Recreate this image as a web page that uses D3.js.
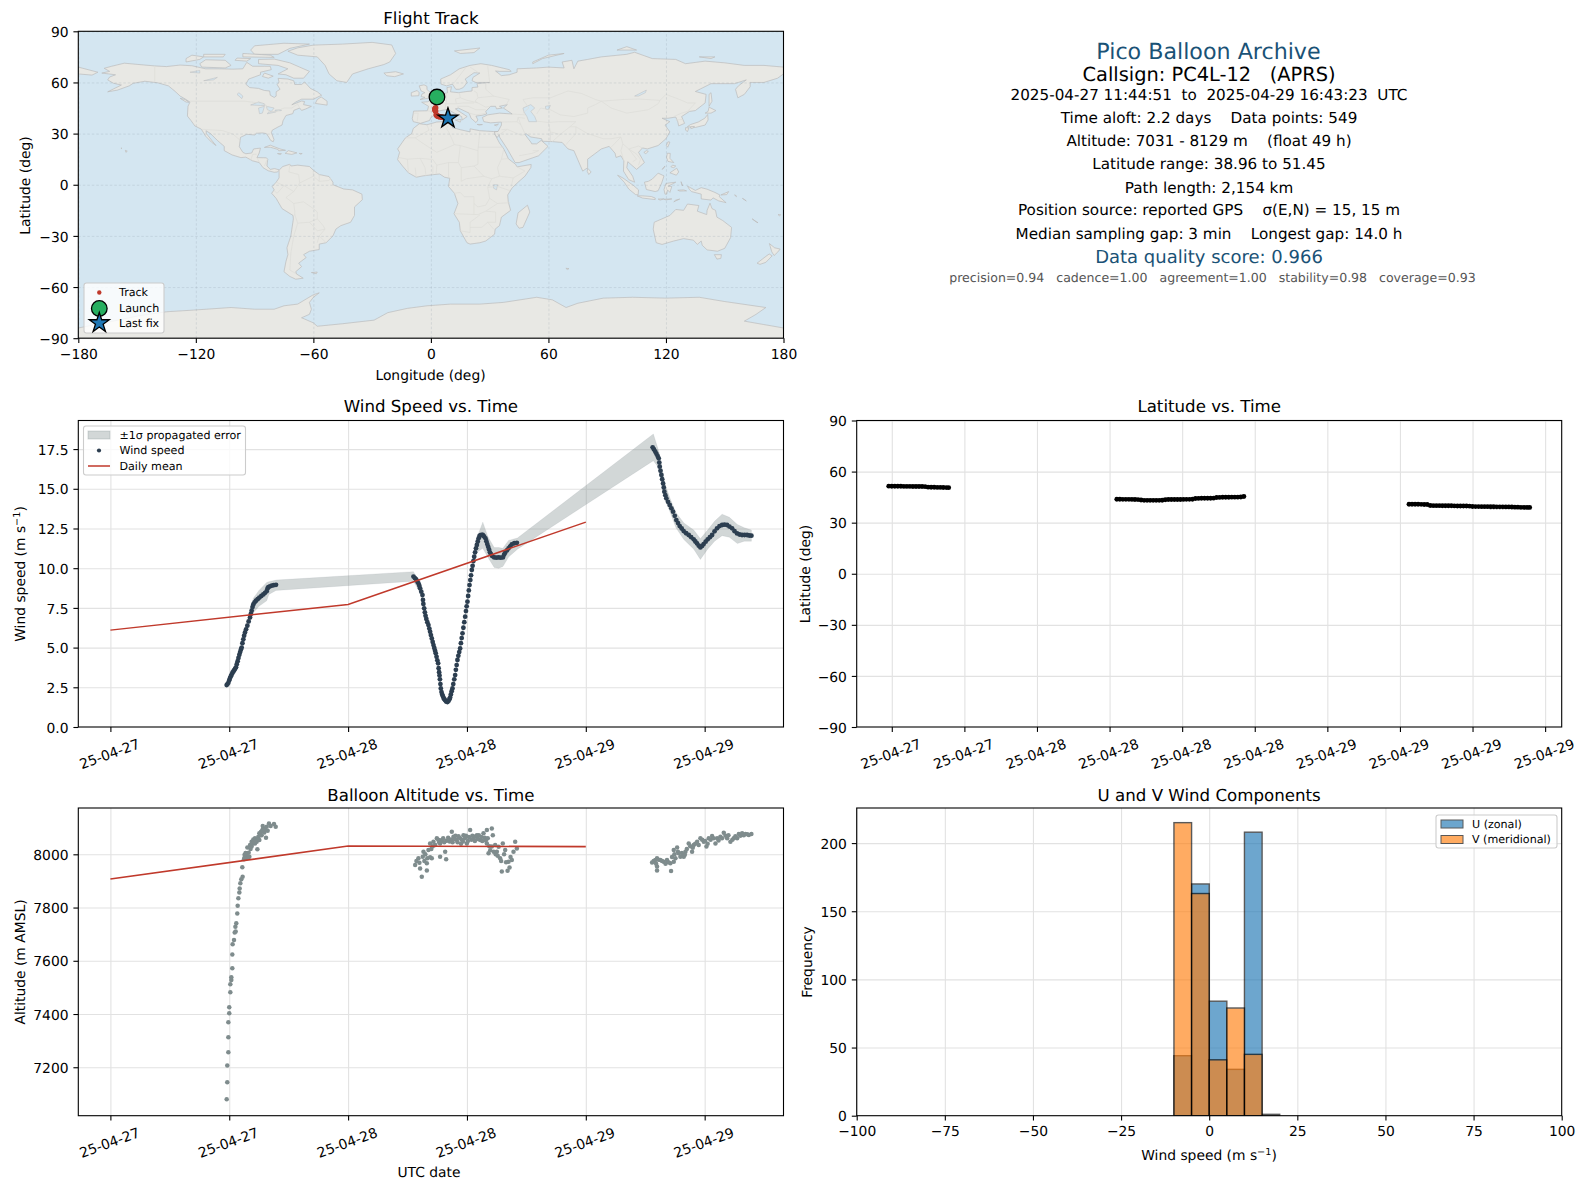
<!DOCTYPE html>
<html><head><meta charset="utf-8">
<script src="https://cdn.jsdelivr.net/npm/d3@7"></script>
<style>
html,body{margin:0;padding:0;background:#fff}
svg{display:block;text-rendering:geometricPrecision}
text{font-family:"DejaVu Sans",sans-serif;fill:#000}
</style></head><body>
<script>
// ---------- DATA ----------
const northAmerica=[[-168,65.5],[-164,66.5],[-166.8,68.3],[-163,69.5],[-156.5,71.3],[-148,70.4],[-141,69.7],[-135,69.3],[-128,70.2],[-122,69.8],[-115,68],[-108,68],[-101,67.8],[-96,68],[-94,71.8],[-91,69.5],[-85,69.5],[-82,69.5],[-81.5,67.5],[-87,66],[-87,64.5],[-93,62],[-94.5,59],[-92.5,57],[-88,56.5],[-85,55.3],[-82.3,55],[-82,52.5],[-80,51.2],[-79,52],[-79,54.5],[-77,56],[-78.5,58.7],[-77.5,60.2],[-78,62.4],[-73,62],[-70,61],[-69.5,58.8],[-66,58.8],[-64.5,60.3],[-61.5,56.5],[-58,54.5],[-55.8,52.5],[-60,50.2],[-66,50.2],[-69,48.5],[-71,46.9],[-66,49.1],[-64.5,48.8],[-65,47],[-61,46],[-64,44.4],[-66,43.6],[-67,45],[-70,43.6],[-70.5,41.7],[-74,40.6],[-75.5,37.5],[-76,35],[-78,33.9],[-81,32],[-81.4,30.5],[-80.1,26.5],[-80.5,25.2],[-81.8,26],[-82.8,28],[-84,30],[-86,30.4],[-89,30.2],[-90,29.2],[-94,29.6],[-97.2,27.8],[-97.5,25],[-97.8,22.3],[-96,19],[-94.5,18.2],[-91.5,18.6],[-90.5,21],[-87,21.5],[-87.7,18.5],[-88.8,15.9],[-84,15.8],[-83.3,15],[-83.7,11],[-82,9],[-79.8,9.5],[-77.4,8.7],[-78.2,7.5],[-80,7.3],[-83,8.2],[-85.7,10],[-87.6,13],[-91,14],[-94.5,16.2],[-97,15.9],[-101.5,17.5],[-105.5,20],[-105.5,22.5],[-109,26],[-112.5,30],[-114.8,31.7],[-114.6,30],[-111.5,25.5],[-109.7,23],[-112,25],[-115,28.5],[-117.2,32.6],[-120.5,34.5],[-122.5,37.7],[-124.3,40.3],[-124,46],[-123,48.5],[-125,50],[-128,52],[-130.5,54.7],[-134,58],[-139.5,59.8],[-146,60.7],[-152,59.5],[-154,58],[-160,55.5],[-165,54.5],[-158,58.5],[-162,59.5],[-165,61.5],[-164,63.2],[-161,64.5]];
const greenland=[[-73,78.3],[-68,80.3],[-60,81.9],[-45,82.5],[-30,83.5],[-20,82],[-18,77],[-21,72],[-24,70.5],[-32,68],[-40,65],[-43,60],[-48,61],[-52,65],[-54,70],[-58,75],[-68,76]];
const southAmerica=[[-77.4,8.7],[-75.6,10.7],[-72,12],[-71.5,11],[-68,11.5],[-62,10.7],[-60,8.5],[-57,6],[-52,4.8],[-50,1.5],[-50,0],[-44.5,-2.5],[-40,-3],[-35.2,-5.5],[-35,-8.8],[-39,-13],[-39,-18],[-41,-22],[-46,-24],[-48.5,-26],[-50,-30],[-53.5,-34],[-57,-34.8],[-57,-38],[-62,-39],[-65,-41],[-63.7,-42.7],[-67.5,-46],[-66,-48],[-69,-51],[-68.5,-52.4],[-65.2,-54.8],[-69,-55.4],[-72,-53.8],[-75,-51],[-74,-45],[-73,-41],[-73.5,-37],[-71.5,-30],[-70.2,-20],[-70.4,-18],[-76,-14],[-79,-8],[-81.3,-5],[-80,-3],[-81,-1],[-79,1.5],[-77.5,4],[-77.5,7]];
const africa=[[-5.9,35.8],[-2,35.2],[3,36.8],[10,37.3],[11,33.5],[15,32.3],[20,31],[20,32.8],[25,31.7],[32,31.2],[34.3,31.2],[32.5,29.9],[35,24.5],[37.2,21],[38.5,18],[39.5,15.3],[43.2,12],[44,10.5],[51.2,11.9],[51,10],[48,5],[45,2],[41.5,-1.8],[39.2,-6],[39.5,-10],[40.7,-15],[36,-19],[35,-24],[32.8,-26],[32.5,-29],[28,-33],[25,-34],[20,-34.8],[18.4,-34],[15,-27],[14.5,-22],[11.8,-17],[13.8,-11],[12,-5],[9,-1],[9.6,3.8],[7,4.4],[4.5,6.3],[1,5.9],[-4,5.2],[-7.5,4.4],[-11.5,7],[-14.5,11],[-17,14.7],[-16,19],[-17,21],[-13,27.5],[-9.8,30],[-9,33]];
const eurasia=[[-9,37],[-9.5,38.8],[-8.8,43.2],[-1.8,43.4],[-1.2,46],[-4.7,48.4],[-1.6,48.7],[1.5,50.5],[3.5,51.4],[5,53],[8.5,54],[8.2,57],[10.5,57.5],[10,54.5],[14,54],[18.5,54.7],[21,55],[21,57],[24,57.3],[23.5,59.3],[30,60],[23,60],[21,61],[21.5,63],[25,65.5],[22,65.7],[17.5,62],[18.5,60],[16.5,57],[14.5,56],[12.7,56],[11,59],[8,58],[5.2,59],[5,62],[10,64.5],[14.5,68],[20,70],[25.5,71],[31,70],[40,67.5],[41,66.5],[35,66.5],[33,66.7],[36,64],[40,64.5],[44,66],[44,68],[54,68.5],[60,69],[68,68.5],[67,72],[72,73],[73,68],[75,72.5],[80,73.5],[87,75],[100,76.5],[104,77.7],[113,74],[125,73.5],[130,71],[140,72.5],[150,71.5],[160,70],[170,70],[180,69],[180,65],[177,62.5],[170,60],[163,60],[163,57.5],[162,56],[160,53],[156.7,51],[155.5,56],[157,58],[161,61.5],[155,59.3],[143,59.3],[135,54.7],[140.5,53],[140,48],[135,43.5],[132,43],[128,40],[129.5,36],[126.5,34.5],[126,37],[125,39.7],[121,39],[118,39],[122,37],[119.5,35],[122,31],[120,27],[116,23],[110.5,21],[108,21.6],[106,19],[109,13],[105,9],[103,11],[100.5,13.5],[100,10],[103,5],[104,1.5],[101,3],[98.3,8],[98.5,14],[97,17],[94.5,16],[94,18.5],[91,22.5],[87,21],[80,15],[80,10],[77.5,8],[73,20],[70,21],[67,24.8],[62,25.3],[57,25.5],[56.5,27],[51,28],[48.5,30],[48,29.5],[51,25],[51.5,24],[54,24],[56.3,26],[59.8,22.5],[55,17],[45,13],[43,13],[39,21],[35,28],[34.9,29.5],[34,27.8],[33,29],[32.4,31],[34.3,31.3],[36,35],[36,36.8],[30.5,36.3],[27,37],[26.3,39.5],[29,41],[35,42],[41.5,41.5],[37,45],[39,47],[35,46],[36.5,45],[33.5,44.5],[33,46],[30.5,46],[28,43],[28.5,41.5],[26,40.7],[23,40.3],[24,38],[23,36.5],[20.5,39],[19.5,42],[14,45],[12.5,44.5],[18.5,40],[16,38],[15.7,40],[12,42],[8.5,44.3],[3,43],[3.2,41.8],[0,39.5],[-0.7,37.7],[-5.3,36]];
const chukotkaEast=[[-180,69],[-175,67.5],[-170,66],[-173,64.3],[-180,65]];
const australia=[[114,-22],[113.5,-26],[115,-34],[118,-35],[124,-33],[129,-31.6],[134,-32.5],[136,-35],[138,-33],[138.5,-35.5],[141,-38.2],[146.3,-39],[150,-37.3],[153,-31],[153.5,-25],[149,-21],[146,-19],[145.3,-15],[143.5,-14],[142.5,-10.8],[141,-15],[140.8,-17.5],[136,-15.5],[136.8,-12.2],[131,-11.3],[129,-15],[125,-14.5],[122,-18],[117,-20.5]];
const antarctica=[[-180,-84],[-158,-79],[-150,-77],[-135,-74.5],[-121,-73.5],[-102,-72],[-90,-73],[-80,-73],[-75,-71],[-68,-70],[-60,-64.5],[-57,-63.4],[-60,-66],[-62,-69],[-61,-73],[-62,-76],[-66,-78],[-60,-81],[-58,-83],[-45,-81.5],[-29,-79.4],[-22,-75],[-12,-72.5],[-2,-71],[10,-70],[25,-70],[37,-69],[54,-66],[62,-67.5],[69,-72],[75,-69.5],[88,-66.5],[103,-66],[120,-66.5],[137,-66],[150,-68.5],[162,-70.5],[171,-72],[166,-76],[160,-80],[170,-82],[180,-84],[180,-90],[-180,-90]];
const islands=[
 [[-80,73.7],[-72,71.5],[-67,69],[-62,66.5],[-65,62.5],[-70,62.5],[-74,64.5],[-78,65],[-73,68],[-78,70],[-88,71],[-88,73.5]],
 [[-117,69],[-105,68.5],[-102,70],[-105,73],[-115,73.3],[-118,71]],
 [[-125,72],[-118,73.5],[-116,75],[-122,76],[-125,74]],
 [[-90,76.5],[-78,76.5],[-72,80],[-62,82.5],[-75,83],[-90,81.5],[-92,79]],
 [[-96,75],[-80,74.7],[-82,76],[-96,77]],
 [[-116,75],[-106,75],[-105,76.5],[-116,76.5]],
 [[-100,73],[-94,72.5],[-92,74],[-99,74.3]],
 [[-85,65.5],[-80.5,63.7],[-83,62.5],[-86,63.5]],
 [[-59,47.7],[-53,46.7],[-53,49],[-56,51.5],[-58,50]],
 [[-128,50.7],[-125,48.5],[-123.5,48.4],[-125.5,50]],
 [[-85,21.9],[-82,23.2],[-77,21],[-74.2,20.2],[-77.7,19.9],[-78,20.7],[-82,22]],
 [[-74.4,18.4],[-72.8,20],[-68.4,18.7],[-71,17.8]],
 [[-78.3,18.3],[-76.3,18.2],[-77,17.8]],[[-67.2,18.4],[-65.7,18.3],[-66.5,17.9]],
 [[-156,20.2],[-155,19.7],[-155.7,19]],[[-158.2,21.6],[-157.7,21.4],[-158,21.2]],
 [[-61,-51.5],[-58,-51.2],[-58.5,-52.2]],
 [[-5.5,50],[1.3,51.2],[1.7,52.7],[-1,54.7],[-2,56],[-2,57.7],[-3.5,58.6],[-6,58],[-5,55],[-3,54],[-4.5,53.3],[-5,51.7],[-3,51.3]],
 [[-10,52],[-6.2,52.2],[-6,54],[-7,55.3],[-10,54]],
 [[-24,65.5],[-18,66.3],[-14,65],[-18.5,63.4],[-22.5,63.9]],
 [[12,78.5],[25,80.2],[22,77.5],[15,77]],
 [[52,71],[57,74],[68,77],[60,76],[52,72]],
 [[95,79],[105,79],[100,81]],[[137,75],[145,75],[143,74]],
 [[12.5,38],[15.5,38.2],[15,36.7]],[[8.3,41],[9.7,41],[9.5,39]],[[8.7,42.5],[9.5,43],[9.3,41.5]],[[23.6,35.4],[26.3,35.3],[24.7,35]],[[32.4,35],[34.5,35.6],[33.5,34.6]],
 [[130.9,34],[135,33.6],[140,35],[141.5,38],[141.3,41.2],[139.8,39],[136.5,36.8],[132.5,35.3]],
 [[130,33.5],[131.7,33.3],[131,31.2],[130,32]],[[132.5,34],[134.5,34.2],[134,33.3],[132.7,33]],
 [[140,42],[143,42],[145.5,43.5],[142,45.5],[141.5,43]],
 [[142,46],[143.5,49],[143,54],[142,53],[142,48]],
 [[120.2,23],[121,25.2],[122,25],[120.9,22]],[[108.7,19],[110,20],[111,19.6],[109.7,18.2]],
 [[120.3,16],[120.7,18.5],[122.2,18.4],[122,15.5],[124,13],[121,13.7]],
 [[122,7],[125.5,9.7],[126.5,7.5],[125.3,5.6]],[[122.5,10.5],[123.3,11.5],[125,11],[124,10]],[[118,9],[119.5,11],[118.7,9.5]],
 [[109,1.5],[111,2],[113,3.3],[116,6.8],[119,5.2],[117.8,1],[116,-3.5],[114.5,-4],[110,-2.8]],
 [[95.3,5.6],[98,4],[103.5,-0.5],[106,-3],[105.8,-5.9],[104.5,-5.8],[101,-2.5],[98.7,1.5]],
 [[105.3,-6.5],[108,-6.5],[112.5,-6.9],[114.5,-7.8],[114.5,-8.7],[108,-7.8]],
 [[119.5,-5.5],[119,-2.8],[120,0.8],[125,1.5],[121,-0.9],[123,-1],[122,-4.5],[120.8,-3],[120.4,-5.5]],
 [[131,-0.8],[135,-3.3],[138,-1.7],[141,-2.6],[145,-4.5],[147.5,-6],[147.2,-7],[150.7,-10.5],[147,-9.5],[144,-7.7],[143,-9],[138,-8.3],[138,-5.5],[133,-4],[132,-2.8]],
 [[124,-10],[127,-8.4],[125,-9]],[[119,-8.5],[123,-8.3],[120,-8.9]],[[116,-8.4],[119,-8.3],[117,-9]],[[127.7,1.8],[128.5,-0.7],[128,0.5]],[[126,-3.2],[129,-3],[130.5,-3.6],[127,-3.7]],
 [[148,-6],[152,-4],[151,-5.8]],[[155,-6],[156,-7],[155.8,-6.3]],[[159,-8],[161,-9.5],[160,-8.6]],[[164,-20],[167,-22.3],[166,-21.8]],[[177.2,-17.5],[178.6,-17.6],[178,-18.2]],
 [[80,9.7],[81.8,7.5],[80.6,6],[79.8,7.8]],
 [[49.3,-12],[50.5,-16],[47,-25],[45,-25.5],[43.5,-23],[44.5,-16.5]],
 [[144.7,-41],[148.3,-41],[148,-43.2],[146,-43.6]],
 [[172.8,-34.5],[175.5,-37],[178.3,-37.7],[176.9,-39.7],[175.2,-41.5],[174,-39.3]],
 [[172.7,-40.6],[174.2,-41.7],[171,-45.5],[168,-46.7],[166.5,-46],[171,-42]],
 [[68.9,-49],[70.5,-49.2],[69.6,-49.7]]
];
const lakes=[
 [[47,45],[51,47],[53,45],[51,43],[53,40],[54,37],[50,37],[49,40],[47.5,42.8]],
 [[58.5,46],[61,46.5],[60,44],[58.5,44.5]],
 [[104,52],[110,55.5],[109.5,54],[106,52]],
 [[-92,46.8],[-88,48.5],[-85,47.5],[-84.7,46.5],[-87,46.5]],
 [[-87.5,41.7],[-88,45],[-85,46],[-86,42]],
 [[-84,46],[-80,45],[-81.5,43],[-83.5,44]],
 [[-83.5,41.6],[-79,42.7],[-79,43],[-83,42.5]],
 [[-79.5,43.3],[-76.3,43.5],[-76.5,44],[-79.5,43.8]],
 [[-99,53],[-96.5,50.5],[-96,52],[-98,54]],
 [[-123,66],[-118,67],[-118,65.5]],[[-116,61],[-109,63],[-111,61.5]],
 [[32,0],[34,0],[33.5,-3],[32,-2]]
];
const borders=[
 [[-141,69.7],[-141,60.3]],[[-123,49],[-95,49],[-88,48],[-84,46.5],[-82.5,42.5],[-79,43],[-75,45],[-71,45],[-68,47.3],[-67,45]],
 [[-117,32.5],[-106.5,31.8],[-101,29.7],[-97.3,26]],[[-92,14.5],[-91,17.8],[-89,17.9]],[[-83.5,15],[-85,11]],[[-87.5,13],[-88.8,15.9]],[[-77.4,8.7],[-77.4,7.2]],
 [[-72,12],[-72.5,7.5],[-67.5,6],[-67,1],[-70,-4],[-74,-7.5],[-70,-11],[-69.5,-15.5],[-69.5,-17.5],[-70.4,-18.3]],
 [[-79,1.5],[-75,-0.5],[-70,-4]],[[-80,-3.5],[-78.5,-5],[-75,-0.5]],
 [[-69.5,-17.5],[-68,-22.5],[-70,-30],[-71.5,-40],[-72,-50],[-68.5,-52.4]],
 [[-67,1],[-60,5],[-57,2],[-52,2.5],[-51,4]],[[-60,5],[-60,8.5]],[[-57,2],[-57,6]],
 [[-70,-11],[-65,-10],[-60,-14],[-58,-16],[-58,-20],[-55,-24],[-54,-26],[-57,-30],[-53.5,-34]],
 [[-68,-22.5],[-62,-22],[-58,-20]],[[-62,-22],[-58,-27],[-54,-26]],[[-57,-30],[-58,-34]],
 [[-2,35.2],[-1,32],[-8,27.5],[-13,27.5]],[[-8,27.5],[-5,25],[3,19],[12,23.5],[15,23],[24,20],[25,31.7]],[[10,37.3],[8,33],[9.5,30],[12,23.5]],
 [[24,22],[37,22]],[[24,20],[24,12],[22,11],[27,5],[31,3.5],[35,5],[42,4],[48,8],[44,10.5]],[[36,15],[37.2,21]],[[35,5],[34,10],[36,15],[39.5,15.3]],[[42,4],[41,-1]],
 [[15,23],[14,13],[9,13],[3,11.5],[1,14.8],[-5.5,15.5],[-12,15],[-16.5,16]],[[14,13],[15.5,10],[22,11]],[[-5.5,15.5],[-3,10],[-2.5,5]],[[3,11.5],[2.7,6.3]],[[1,11],[1,6]],[[-8,10],[-7.5,4.4]],[[-12,15],[-11.5,7]],[[9,13],[9,5],[9.6,3.8]],
 [[15.5,10],[15.5,2],[18,3.5],[27,5]],[[12,-5],[15,-4.5],[17,-7],[22,-7],[22,-11],[24,-13],[28,-12],[30,-8],[29,-1.5],[31,3.5]],[[34,-1],[29,-1.5]],[[34,-1],[40.5,-3.5]],[[30,-8],[34,-11],[40.4,-10.5]],
 [[11.8,-17],[24,-17.5],[28,-15.5],[34,-11]],[[22,-11],[22,-17.5]],[[15,-27],[20,-28],[20,-22],[25,-17.7]],[[20,-25],[26,-25],[29,-22],[33,-22]],[[32,-26],[29,-22]],[[28,-15.5],[33,-16],[33,-22]],
 [[-9,42],[-6.5,42],[-7,37.2]],[[-1.8,43.4],[3,42.5]],[[3,51],[8,49],[7,44]],[[8,49],[8,54.5]],[[14.5,54],[15,51],[18.5,49.5],[24,48],[22.5,49],[24,51],[23.5,54],[22,55]],[[15,51],[12.5,50.3],[13,47.5],[7,47.5]],[[13,47.5],[16.5,48],[22,48]],[[13.5,46],[19,46],[23,44],[28,44]],[[24,48],[28,45.5],[30,46]],[[24,51],[32,52],[40,50],[38.5,47]],[[28,60],[28,56],[32,52]],[[30,60],[29,69.5]],[[20,69],[24,66]],[[12,60],[18,69]],[[19.5,42],[23,41],[26,41.5],[28,42]],
 [[48,41],[41.5,41.5]],[[44.5,39.5],[44,37],[46,35],[48,30]],[[36,36.8],[44,37]],[[39,32.5],[46,29],[48,29.5]],[[36,32.3],[39,32.5]],[[35,29.5],[39,32.5]],[[44.5,39.5],[48,39]],[[46,35],[44.5,39.5]],[[52,20],[55,20],[52,18.5],[45,17]],[[61,25.3],[61,31],[60,36.5],[54,37.3]],[[61,31],[66,29.5],[71,34],[74,37],[72,37],[65,37],[60,36.5]],[[66,29.5],[62,25.3]],[[71,34],[74,34],[77,32],[80,30],[88,27],[92,27],[97,28],[92,22]],[[74,34],[74,30],[70,25],[69,23.5]],[[97,28],[98,24],[101,21],[106,22.7],[108,21.6]],[[101,21],[105,18],[107,15],[106,11.5]],[[98,24],[97,20],[98.5,14]],[[101,21],[103,18],[105,15],[103,13.5]],
 [[47,42],[50,45],[47,50],[52,51],[61,51],[70,55],[77,53.5],[84,50],[87,49],[98,50],[106,50.3],[117,49.5],[120,53],[127,50],[131,48],[135,48],[131,43]],[[54,41.5],[56,45],[61,44],[66,41],[73,40],[80,42],[80,45],[84,47],[87,49]],[[87,49],[92,45],[100,42],[111,44],[116,47.5],[117,49.5]],[[124,40],[128,42],[131,43]],[[125,38],[128.5,38.3]]
];
const lonTicks=[-180,-120,-60,0,60,120,180];
const latTicks=[-90,-60,-30,0,30,60,90];
const trackLon=[3.1,2.9,2.6,2.4,2.2,2.1,2.1,2.2,2.4,2.7,3.0,3.4,3.8,4.4,5.2,6.0,7.0,8.0,8.7];
const trackLat=[51.45,51.0,50.5,45.2,44.8,44.4,44.0,43.6,43.2,41.0,40.6,40.3,40.1,39.9,39.7,39.5,39.3,39.1,38.96];

const windTickHours=[0,12,24,36,48,60];
const windTickLabels=["25-04-27","25-04-27","25-04-28","25-04-28","25-04-29","25-04-29"];
const latTickHours=[12,18,24,30,36,42,48,54,60,66];
const latTickLabels=["25-04-27","25-04-27","25-04-28","25-04-28","25-04-28","25-04-28","25-04-29","25-04-29","25-04-29","25-04-29"];

const windSeries=[[11.74,2.64],[11.82,2.7],[11.91,2.78],[12,2.95],[12.08,3.08],[12.16,3.2],[12.24,3.3],[12.33,3.42],[12.42,3.5],[12.5,3.58],[12.6,3.68],[12.68,3.76],[12.76,3.95],[12.85,4.14],[12.93,4.35],[13.02,4.55],[13.1,4.72],[13.18,4.88],[13.25,5],[13.33,5.28],[13.42,5.52],[13.5,5.75],[13.59,5.95],[13.7,6.15],[13.83,6.38],[13.96,6.65],[14.1,6.9],[14.18,7.12],[14.26,7.32],[14.35,7.55],[14.43,7.72],[14.56,7.85],[14.7,7.95],[14.87,8.05],[15.04,8.15],[15.24,8.25],[15.44,8.35],[15.62,8.45],[15.78,8.55],[15.87,8.72],[15.95,8.8],[16.12,8.86],[16.29,8.9],[16.5,8.93],[16.72,8.95],
[30.6,9.47],[30.74,9.38],[30.87,9.3],[31,9.15],[31.1,9.05],[31.19,8.9],[31.27,8.73],[31.39,8.52],[31.51,8.31],[31.56,8],[31.6,7.75],[31.68,7.47],[31.75,7.22],[31.82,7],[31.9,6.8],[32,6.6],[32.11,6.42],[32.2,6.2],[32.28,6],[32.36,5.79],[32.45,5.58],[32.54,5.36],[32.62,5.16],[32.7,4.98],[32.78,4.8],[32.85,4.64],[32.93,4.42],[33.01,4.2],[33.09,4.01],[33.14,3.7],[33.19,3.45],[33.23,3.25],[33.27,3],[33.32,2.7],[33.36,2.43],[33.43,2.2],[33.5,2.05],[33.56,1.95],[33.64,1.83],[33.72,1.75],[33.8,1.68],[33.9,1.6],[34.03,1.57],[34.15,1.65],[34.23,1.75],[34.3,1.85],[34.38,2.05],[34.46,2.25],[34.54,2.43],[34.62,2.7],[34.72,3],[34.81,3.27],[34.88,3.6],[34.96,3.9],[35.04,4.22],[35.13,4.48],[35.22,4.72],[35.31,4.95],[35.39,5.28],[35.47,5.6],[35.55,5.9],[35.64,6.25],[35.73,6.6],[35.82,6.95],[35.9,7.3],[35.97,7.6],[36.05,7.89],[36.12,8.25],[36.19,8.6],[36.26,8.94],[36.34,9.25],[36.41,9.55],[36.49,9.89],[36.57,10.15],[36.65,10.45],[36.73,10.72],[36.82,11],[36.91,11.25],[37,11.46],[37.09,11.68],[37.18,11.88],[37.27,12.03],[37.38,12.08],[37.5,12.1],[37.6,12.09],[37.73,12],[37.87,11.88],[37.96,11.7],[38.05,11.52],[38.14,11.35],[38.23,11.18],[38.32,11],[38.41,10.89],[38.55,10.76],[38.75,10.68],[38.97,10.66],[39.19,10.68],[39.41,10.66],[39.63,10.68],[39.75,10.85],[39.86,10.98],[40.03,11.12],[40.2,11.25],[40.36,11.38],[40.53,11.5],[40.78,11.57],[41.04,11.6],
[54.75,17.61],[54.88,17.48],[55.02,17.34],[55.13,17.2],[55.25,17.06],[55.36,16.92],[55.42,16.65],[55.46,16.39],[55.54,16.13],[55.63,15.87],[55.71,15.6],[55.8,15.34],[55.87,15.08],[55.93,14.82],[56.03,14.6],[56.13,14.4],[56.3,14.18],[56.47,13.98],[56.64,13.77],[56.81,13.56],[56.98,13.3],[57.14,13.03],[57.31,12.84],[57.48,12.65],[57.68,12.5],[57.88,12.34],[58.13,12.2],[58.39,12.09],[58.64,11.95],[58.89,11.82],[59.06,11.68],[59.23,11.56],[59.4,11.42],[59.57,11.31],[59.74,11.4],[59.9,11.52],[60.1,11.67],[60.31,11.82],[60.53,11.95],[60.75,12.09],[61,12.32],[61.25,12.51],[61.5,12.65],[61.76,12.72],[62,12.74],[62.26,12.72],[62.5,12.62],[62.77,12.51],[63.02,12.33],[63.27,12.19],[63.52,12.12],[63.78,12.09],[64.03,12.09],[64.28,12.09],[64.5,12.06],[64.72,12.05]];
const windBand=[[11.74,2.5,2.78],[12.7,3.55,3.95],[13.3,4.85,5.35],[13.8,6.1,6.7],[14.3,7,7.75],[14.43,7.2,8.1],[15,7.6,8.6],[15.78,7.95,9.1],[16,8.35,9.15],[16.72,8.6,9.25],[30.6,9.18,9.78],[31.27,8.45,9],[32,6.4,6.8],[33,4.05,4.35],[33.5,1.85,2.25],[34,1.42,1.72],[34.8,3.1,3.45],[35.8,6.75,7.15],[36.5,9.6,10.2],[37,11,11.9],[37.6,11.25,12.9],[38.1,10.7,12],[38.75,10.05,11.3],[39.2,10,11.3],[39.63,10.1,11.25],[40.2,10.7,11.75],[41.1,11.2,11.9],[54.82,16.77,18.45],[55.4,16.3,17.3],[56,14.3,15.3],[56.5,13.55,14.4],[57.1,12.55,13.5],[57.9,11.8,12.85],[58.9,11.2,12.4],[59.57,10.55,11.85],[60.3,11.2,12.4],[61,11.7,12.95],[61.76,12.05,13.4],[62.5,11.95,13.2],[63.3,11.55,12.75],[64,11.7,12.55],[64.72,11.7,12.4]];
const dailyHours=[0,24,48];
const dailyWind=[6.1,7.72,12.9];
const dailyAlt=[7907,8031,8029];
const windYTicks=[0,2.5,5,7.5,10,12.5,15,17.5];

const altSeries=[[11.74,7080],[11.8,7144],[11.8,7207],[11.91,7256],[11.91,7313],[11.91,7369],[12,7403],[12,7425],[12.11,7482],[12.11,7512],[12.21,7528],[12.21,7538],[12.31,7572],[12.31,7624],[12.34,7662],[12.48,7678],[12.55,7706],[12.65,7710],[12.62,7728],[12.71,7741],[12.81,7778],[12.85,7807],[12.92,7835],[13.02,7857],[13.05,7872],[13.12,7891],[13.22,7906],[13.35,7916],[13.32,7951],
[13.49,7981],[13.62,7997],[13.76,8004],[13.96,8006],[14.03,7991],[13.56,7989],[13.83,8026],[14.1,8035],[14.26,8047],[14.43,8056],[14.6,8060],[14.77,8047],[14.94,8066],[14.84,8019],[15.04,8079],[15.21,8085],[15.38,8106],[15.44,8098],[15.61,8094],[15.71,8062],[15.78,8104],[16.01,8116],[16.18,8106],[16.52,8114],[16.69,8104],[15.04,8054],[14.6,8041],[14.26,8029],[15.27,8072],[15.54,8082],[15.88,8089],[13.7,7985],[13.9,7990],[14.15,8020],[14.35,8040],[14.5,8045],[14.7,8052],[14.9,8058],[15.12,8072],[15.33,8090],[15.5,8092],[13.55,7998],[13.65,8005],
[30.77,7960],[31.1,7985],[31.27,7947],[31.44,7916],[31.54,7991],[31.61,8010],[31.95,7966],[31.95,7939],[32.11,8016],[32.28,7989],[32.45,7985],[32.28,8041],[32.62,8047],[32.96,8060],[33.29,8041],[33.29,7991],[33.8,8010],[33.9,7981],[33.46,8054],[33.96,8051],[34.47,8085],[34.64,8066],[34.97,8054],[35.31,8060],[35.65,8072],[35.99,8041],[36.32,8091],[36.66,8060],[37,8072],[37.33,8054],[37.67,8079],[38.01,8091],[38.51,8097],[38.61,8072],[38.01,8041],[38.18,8004],[38.51,8029],[38.85,8035],[39.02,8010],[39.35,7985],[39.52,7935],[39.62,8041],[39.86,8016],[40.1,7938],[40.2,7972],[40.53,7979],[40.7,8010],[40.87,8047],[41.04,8022],
[33.2,8045],[33.6,8060],[33.7,8045],[34.1,8062],[34.25,8048],[34.4,8056],[34.55,8045],[34.75,8058],[34.85,8070],[35.05,8045],[35.15,8068],[35.4,8040],[35.5,8055],[35.6,8048],[35.8,8060],[35.9,8070],[36.1,8050],[36.2,8065],[36.45,8055],[36.55,8070],[36.8,8050],[36.9,8068],[37.1,8058],[37.2,8072],[37.45,8065],[37.55,8050],[37.8,8062],[37.9,8052],[38.1,8060],[38.25,8030],[38.35,8015],[38.7,8010],[38.9,8000],[39.1,7995],[39.2,8028],[39.45,7975],[39.75,8000],[39.95,7970],[40.3,7950],[40.4,7990],[32,7985],[31.8,8000],[31.7,7975],[32.4,8020],[32.8,8035],[33.1,8055],[30.9,7975],[31.2,7968],[32.55,8030],
[54.69,7969],[55.03,7979],[55.19,7985],[55.53,7979],[55.87,7972],[55.19,7954],[55.19,7939],[56.2,7979],[56.54,7966],[56.61,7937],[56.88,7972],[56.88,8016],[57.22,8026],[57.38,8004],[57.55,7991],[57.89,7991],[58.06,8010],[58.39,8041],[58.73,8010],[58.9,8035],[59.24,8047],[59.57,8060],[59.91,8047],[60.18,8029],[60.41,8060],[60.75,8069],[61.09,8041],[61.26,8060],[61.59,8066],[61.93,8081],[62.27,8060],[62.6,8047],[62.94,8060],[63.28,8060],[63.45,8076],[63.78,8079],[64.12,8076],[64.46,8073],[64.72,8076],
[54.85,7975],[55.1,7965],[55.35,7980],[55.7,7975],[56.05,7965],[56.35,7970],[56.7,7990],[56.95,8000],[57.05,7985],[57.3,8010],[57.7,8005],[58,7998],[58.2,8020],[58.55,8030],[58.8,8025],[59.05,8040],[59.4,8035],[59.75,8055],[60.05,8050],[60.3,8040],[60.6,8055],[60.9,8060],[61.4,8052],[61.75,8060],[62.1,8070],[62.4,8072],[62.8,8055],[63.1,8068],[63.6,8070],[63.95,8072],[64.3,8075]];
const altYTicks=[7200,7400,7600,7800,8000];

const latSeries=[[11.75,51.45],[12,51.4],[12.25,51.4],[12.5,51.35],[12.75,51.35],[13,51.3],[13.25,51.3],[13.5,51.3],[13.75,51.25],[14,51.25],[14.25,51.2],[14.5,51.2],[14.75,51.15],[15,50.85],[15.25,50.8],[15.5,50.8],[15.75,50.7],[16,50.7],[16.25,50.65],[16.5,50.6],[16.7,50.55],
[30.6,43.75],[30.85,43.75],[31.1,43.7],[31.35,43.7],[31.6,43.7],[31.85,43.65],[32.1,43.6],[32.35,43.55],[32.6,43.3],[32.85,43.1],[33.1,43.1],[33.35,43.1],[33.6,43.1],[33.85,43.1],[34.1,43.1],[34.35,43.15],[34.6,43.5],[34.85,43.6],[35.1,43.6],[35.35,43.6],[35.6,43.6],[35.85,43.6],[36.1,43.65],[36.35,43.7],[36.6,43.7],[36.85,43.75],[37.1,44.2],[37.35,44.25],[37.6,44.3],[37.85,44.3],[38.1,44.3],[38.35,44.35],[38.6,44.4],[38.85,44.8],[39.1,44.85],[39.35,44.9],[39.6,44.9],[39.85,44.95],[40.1,45],[40.35,45],[40.6,45],[40.85,45.1],[41.1,45.4],
[54.75,40.85],[55,40.85],[55.25,40.8],[55.5,40.8],[55.75,40.75],[56,40.7],[56.25,40.65],[56.5,40.1],[56.75,40],[57,40],[57.25,40],[57.5,39.95],[57.75,39.95],[58,39.9],[58.25,39.9],[58.5,39.85],[58.75,39.8],[59,39.8],[59.25,39.8],[59.5,39.75],[59.75,39.7],[60,39.5],[60.25,39.45],[60.5,39.45],[60.75,39.4],[61,39.4],[61.25,39.4],[61.5,39.35],[61.75,39.35],[62,39.3],[62.25,39.3],[62.5,39.3],[62.75,39.25],[63,39.25],[63.25,39.2],[63.5,39.15],[63.75,39.1],[64,39],[64.25,38.98],[64.5,38.96],[64.72,38.96]];

const histEdges=[-10,-5,0,5,10,15];
const uCounts=[44,170,84,34,208,1];
const vCounts=[215,163,41,79,45,0];
const histXTicks=[-100,-75,-50,-25,0,25,50,75,100];
const histYTicks=[0,50,100,150,200];
const histBinWidth=5;

const infoLines=[
 {t:"Pico Balloon Archive",s:22.2,c:"#1a5276",y:59,x:1208.5},
 {t:"Callsign: PC4L-12   (APRS)",s:19.4,c:"#000",y:80.5,x:1209},
 {t:"2025-04-27 11:44:51  to  2025-04-29 16:43:23  UTC",s:15.2,c:"#000",y:99.5,x:1209},
 {t:"Time aloft: 2.2 days    Data points: 549",s:15.2,c:"#000",y:123,x:1209},
 {t:"Altitude: 7031 - 8129 m    (float 49 h)",s:15.2,c:"#000",y:146.2,x:1209},
 {t:"Latitude range: 38.96 to 51.45",s:15.2,c:"#000",y:169.4,x:1209},
 {t:"Path length: 2,154 km",s:15.2,c:"#000",y:192.6,x:1209},
 {t:"Position source: reported GPS    σ(E,N) = 15, 15 m",s:15.2,c:"#000",y:215.4,x:1209},
 {t:"Median sampling gap: 3 min    Longest gap: 14.0 h",s:15.2,c:"#000",y:238.6,x:1209},
 {t:"Data quality score: 0.966",s:18,c:"#1a5276",y:263.2,x:1209},
 {t:"precision=0.94   cadence=1.00   agreement=1.00   stability=0.98   coverage=0.93",s:12.55,c:"#555",y:282,x:1212.5}
];

// ---------- COLOURS ----------
const RED="#c0392b",NAVY="#2c3e50",GREY="#7f8c8d",OCEAN="#d4e6f1",LAND="#e8e8e4",COAST="#bcbcbc",BORDER="#dcdcd8",GREEN="#27ae60",BLUE="#1f77b4";

// ---------- LAYOUT ----------
const svg=d3.select("body").append("svg").attr("width",1586).attr("height",1189);
const defs=svg.append("defs");
const minusFmt=s=>String(s).replace("-","\u2212");
let clipId=0;

function panel(x0,y0,w,h,xDom,yDom,title,titleDy){
  const g=svg.append("g").attr("transform",`translate(${x0},${y0})`);
  const x=d3.scaleLinear().domain(xDom).range([0,w]);
  const y=d3.scaleLinear().domain(yDom).range([h,0]);
  const id="c"+(clipId++);
  defs.append("clipPath").attr("id",id).append("rect").attr("width",w).attr("height",h);
  const plot=g.append("g");
  const inner=g.append("g").attr("clip-path",`url(#${id})`);
  g.append("text").attr("x",w/2).attr("y",-8+titleDy).attr("text-anchor","middle").attr("font-size",16.65).text(title);
  return {g,plot,inner,x,y,w,h};
}
function grid(p,xT,yT,dashed){
  const sty=s=>s.call(q=>q.select(".domain").remove()).call(q=>q.selectAll("text").remove());
  const gx=p.inner.append("g").attr("transform",`translate(0,${p.h})`).call(d3.axisBottom(p.x).tickValues(xT).tickSize(-p.h)).call(sty);
  const gy=p.inner.append("g").call(d3.axisLeft(p.y).tickValues(yT).tickSize(-p.w)).call(sty);
  [gx,gy].forEach(a=>a.selectAll("line").attr("stroke",dashed?"#8a9aa5":"#e2e2e2").attr("stroke-width",dashed?0.7:1.1).attr("stroke-opacity",dashed?0.32:1).attr("stroke-dasharray",dashed?"2.5,2":null));
}
function finish(p,xT,xF,yT,yF,rot){
  const axX=p.g.append("g").attr("transform",`translate(0,${p.h})`).call(d3.axisBottom(p.x).tickValues(xT).tickFormat(xF).tickSize(4.9).tickPadding(5.6));
  const axY=p.g.append("g").call(d3.axisLeft(p.y).tickValues(yT).tickFormat(yF).tickSize(4.9).tickPadding(4.9));
  [axX,axY].forEach(a=>{a.select(".domain").remove();a.selectAll("line").attr("stroke","#000").attr("stroke-width",1.1);a.selectAll("text").attr("font-size",13.85).attr("font-family","DejaVu Sans").attr("fill","#000");});
  axY.selectAll("text").attr("dy","0.37em");
  if(rot){axX.selectAll("text").attr("text-anchor","middle").attr("dy",null).attr("y",null).attr("transform","translate(-1,28) rotate(-20)").attr("dominant-baseline","middle");}
  p.g.append("rect").attr("width",p.w).attr("height",p.h).attr("fill","none").attr("stroke","#000").attr("stroke-width",1.1);
}
function label(x,y,t,rot,sup){
  const n=svg.append("text").attr("transform",`translate(${x},${y})`+(rot?" rotate(-90)":"")).attr("text-anchor","middle").attr("font-size",13.85);
  n.append("tspan").text(t);
  if(sup){
    n.append("tspan").attr("dy",-5).attr("font-size",9.7).text("\u22121");
    n.append("tspan").attr("dy",5).text(sup);
  }
}
function legendBox(x,y,w,h){
  svg.append("rect").attr("x",x).attr("y",y).attr("width",w).attr("height",h).attr("rx",2.5).attr("fill","#fff").attr("fill-opacity",0.8).attr("stroke","#ccc").attr("stroke-width",1.1);
}
function legendText(x,y,t){
  svg.append("text").attr("x",x).attr("y",y).attr("dominant-baseline","middle").attr("font-size",11.1).text(t);
}
const starPath=d3.symbol().type(d3.symbolStar).size(125)();

// ---------- MAP ----------
const mapP=panel(78.3,31.3,705.2,306.9,[-180,180],[-90,90],"Flight Track",0.5);
const geo=d3.line().x(d=>mapP.x(d[0])).y(d=>mapP.y(d[1]));
const closed=d=>geo(d)+"Z";
mapP.inner.append("rect").attr("width",mapP.w).attr("height",mapP.h).attr("fill",OCEAN);
const landAreas=[northAmerica,greenland,southAmerica,africa,eurasia,chukotkaEast,australia,antarctica,...islands];
mapP.inner.append("g").selectAll("path").data(landAreas).join("path").attr("d",closed).attr("fill",LAND).attr("stroke",COAST).attr("stroke-width",0.7).attr("stroke-linejoin","round");
mapP.inner.append("g").selectAll("path").data(lakes).join("path").attr("d",closed).attr("fill",OCEAN).attr("stroke",COAST).attr("stroke-width",0.5);
mapP.inner.append("g").selectAll("path").data(borders).join("path").attr("d",geo).attr("fill","none").attr("stroke",BORDER).attr("stroke-width",0.7);
grid(mapP,lonTicks,latTicks,true);
mapP.inner.append("g").selectAll("circle").data(trackLon).join("circle").attr("cx",d=>mapP.x(d)).attr("cy",(d,i)=>mapP.y(trackLat[i])).attr("r",2.8).attr("fill",RED);
mapP.inner.append("circle").attr("cx",mapP.x(trackLon[0])).attr("cy",mapP.y(trackLat[0])).attr("r",7.8).attr("fill",GREEN).attr("stroke","#000").attr("stroke-width",1.3);
mapP.inner.append("path").attr("d",starPath).attr("transform",`translate(${mapP.x(trackLon[trackLon.length-1])},${mapP.y(trackLat[trackLat.length-1])})`).attr("fill",BLUE).attr("stroke","#000").attr("stroke-width",1.3);
finish(mapP,lonTicks,minusFmt,latTicks,minusFmt);
label(430.5,380,"Longitude (deg)");
label(30,185.5,"Latitude (deg)",true);
legendBox(84,283,80,50);
svg.append("circle").attr("cx",99.3).attr("cy",292.5).attr("r",2.2).attr("fill",RED);
svg.append("circle").attr("cx",99.3).attr("cy",308.5).attr("r",7.8).attr("fill",GREEN).attr("stroke","#000").attr("stroke-width",1.3);
svg.append("path").attr("d",starPath).attr("transform","translate(99.3,323)").attr("fill",BLUE).attr("stroke","#000").attr("stroke-width",1.3);
legendText(119,292.5,"Track");legendText(119,308.5,"Launch");legendText(119,323.5,"Last fix");

// ---------- INFO ----------
svg.append("g").selectAll("text").data(infoLines).join("text").attr("x",d=>d.x).attr("y",d=>d.y).attr("text-anchor","middle").attr("font-size",d=>d.s).style("fill",d=>d.c).style("white-space","pre").attr("xml:space","preserve").text(d=>d.t);

// ---------- WIND ----------
const timeDomain=[-3.24,67.96];
const windP=panel(78.3,420.5,705.2,306.5,timeDomain,[0,19.3],"Wind Speed vs. Time",-1);
grid(windP,windTickHours,windYTicks);
windP.inner.append("path").datum(windBand).attr("fill",GREY).attr("fill-opacity",0.35).attr("stroke",GREY).attr("stroke-opacity",0.2).attr("stroke-width",0.6)
  .attr("d",d3.area().x(d=>windP.x(d[0])).y0(d=>windP.y(d[1])).y1(d=>windP.y(d[2])));
windP.inner.append("g").selectAll("circle").data(windSeries).join("circle").attr("cx",d=>windP.x(d[0])).attr("cy",d=>windP.y(d[1])).attr("r",2.4).attr("fill",NAVY);
windP.inner.append("path").datum(dailyHours).attr("fill","none").attr("stroke",RED).attr("stroke-width",1.5)
  .attr("d",d3.line().x(d=>windP.x(d)).y((d,i)=>windP.y(dailyWind[i])));
finish(windP,windTickHours,(d,i)=>windTickLabels[i],windYTicks,d3.format(".1f"),true);
label(25,574,"Wind speed (m s",true,")");
legendBox(83.5,426,162,49);
svg.append("rect").attr("x",88).attr("y",431).attr("width",22).attr("height",8).attr("fill",GREY).attr("fill-opacity",0.35).attr("stroke",GREY).attr("stroke-opacity",0.3);
svg.append("circle").attr("cx",99).attr("cy",450.5).attr("r",2.1).attr("fill",NAVY);
svg.append("line").attr("x1",88).attr("x2",110).attr("y1",466).attr("y2",466).attr("stroke",RED).attr("stroke-width",1.5);
legendText(119.5,435.5,"±1σ propagated error");legendText(119.5,451,"Wind speed");legendText(119.5,466.5,"Daily mean");

// ---------- LATITUDE ----------
const latP=panel(856.7,420.5,705,306.5,[9.1,67.37],[-90,90],"Latitude vs. Time",-1);
grid(latP,latTickHours,latTicks);
latP.inner.append("g").selectAll("circle").data(latSeries).join("circle").attr("cx",d=>latP.x(d[0])).attr("cy",d=>latP.y(d[1])).attr("r",2.45).attr("fill","#000");
finish(latP,latTickHours,(d,i)=>latTickLabels[i],latTicks,minusFmt,true);
label(810,574,"Latitude (deg)",true);

// ---------- ALTITUDE ----------
const altP=panel(78.3,808,705.2,307.7,timeDomain,[7018,8174],"Balloon Altitude vs. Time",0.5);
grid(altP,windTickHours,altYTicks);
altP.inner.append("g").selectAll("circle").data(altSeries).join("circle").attr("cx",d=>altP.x(d[0])).attr("cy",d=>altP.y(d[1])).attr("r",2.25).attr("fill",GREY);
altP.inner.append("path").datum(dailyHours).attr("fill","none").attr("stroke",RED).attr("stroke-width",1.6)
  .attr("d",d3.line().x(d=>altP.x(d)).y((d,i)=>altP.y(dailyAlt[i])));
finish(altP,windTickHours,(d,i)=>windTickLabels[i],altYTicks,d3.format("d"),true);
label(25,962,"Altitude (m AMSL)",true);
label(429,1177,"UTC date");

// ---------- HISTOGRAM ----------
const histP=panel(856.7,808,705,307.7,[-100,100],[0,225.75],"U and V Wind Components",0.5);
grid(histP,histXTicks,histYTicks);
function bars(counts,color){
  histP.inner.append("g").selectAll("rect").data(histEdges).join("rect")
   .attr("x",d=>histP.x(d)).attr("width",histP.x(histBinWidth)-histP.x(0))
   .attr("y",(d,i)=>histP.y(counts[i])).attr("height",(d,i)=>histP.y(0)-histP.y(counts[i]))
   .attr("fill",color).attr("opacity",0.65).attr("stroke","#000").attr("stroke-width",1.4);
}
bars(uCounts,BLUE);bars(vCounts,"#ff7f0e");
finish(histP,histXTicks,minusFmt,histYTicks,d3.format("d"));
label(1209,1160,"Wind speed (m s",false,")");
label(812,962,"Frequency",true);
legendBox(1436,815,121,33);
svg.append("rect").attr("x",1441).attr("y",820).attr("width",22).attr("height",8).attr("fill",BLUE).attr("opacity",0.65).attr("stroke","#000");
svg.append("rect").attr("x",1441).attr("y",835.5).attr("width",22).attr("height",8).attr("fill","#ff7f0e").attr("opacity",0.65).attr("stroke","#000");
legendText(1472,825,"U (zonal)");legendText(1472,840,"V (meridional)");
</script>
</body></html>
